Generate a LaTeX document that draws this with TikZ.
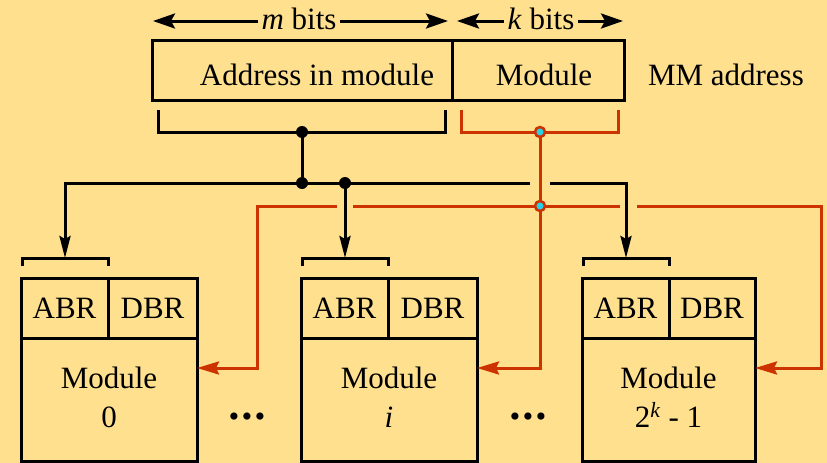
\documentclass[tikz,border=0pt]{standalone}
\usepackage{fontspec}
\setmainfont{Liberation Serif}
\newfontfamily\tnr{Liberation Serif}
\usetikzlibrary{arrows.meta,calc}
\definecolor{bg}{RGB}{254,224,143}
\definecolor{rd}{RGB}{204,51,0}
\definecolor{cy}{RGB}{40,210,230}
\tikzset{
  blk/.style={line width=3pt,draw=black},
  redl/.style={line width=3pt,draw=rd},
  box/.style={draw=black,line width=3pt,rectangle,inner sep=0pt,outer sep=0pt},
  txt/.style={font=\tnr\fontsize{31}{39}\selectfont,inner sep=0pt,outer sep=0pt},
  barr/.style={-{Stealth[length=22pt,width=11pt,inset=3pt]}},
  rarr/.style={-{Stealth[length=22pt,width=13pt,inset=3pt]}},
  dimarr/.style={{Stealth[length=22pt,width=15pt,inset=4pt]}-{Stealth[length=22pt,width=15pt,inset=4pt]}},
  bdot/.style={circle,fill=black,inner sep=0pt,minimum size=12pt},
  rdot/.style={circle,draw=rd,line width=2.5pt,fill=cy,inner sep=0pt,minimum size=10pt},
}
\begin{document}
\begin{tikzpicture}[x=1pt,y=-1pt]
\fill[bg] (0,0) rectangle (827,463);
\useasboundingbox (0,0) rectangle (827,463);

% top MM address register
\node[box,minimum width=300pt,minimum height=60pt] (addr) at (302,70) {};
\node[box,minimum width=172pt,minimum height=60pt] (mod) at (538,70) {};
\node[txt,anchor=base] (addrtxt) at (317,85) {Address in module};
\node[txt,anchor=base] (modtxt) at (544,85) {Module};
\node[txt,anchor=base west] (mmtxt) at (648,85) {MM address};

% dimension arrows
\coordinate (m1) at (153,21);
\coordinate (m2) at (448,21);
\coordinate (k1) at (457,21);
\coordinate (k2) at (623,21);
\draw[line width=3pt,dimarr] (m1) -- (m2);
\draw[line width=3pt,dimarr] (k1) -- (k2);
\node[txt,fill=bg,inner xsep=4pt,inner ysep=3pt,anchor=base] (mbits) at (299,29) {\textit{m} bits};
\node[txt,fill=bg,inner xsep=4pt,inner ysep=3pt,anchor=base] (kbits) at (541,29) {\textit{k} bits};

% modules
\foreach \n/\x/\w/\lab in {0/21/176/{0}, 1/301/176/{\textit{i}}, 2/582/173/{2\textsuperscript{\textit{k}} - 1}}{
  \node[box,minimum width=87pt,minimum height=60pt,anchor=north west] (abr\n) at (\x,278) {};
  \node[txt,anchor=base] at ($(abr\n.center)+(0,10)$) {ABR};
  \node[box,minimum width={\w-87},minimum height=60pt,anchor=north west] (dbr\n) at (abr\n.north east) {};
  \node[txt,anchor=base] at ($(dbr\n.center)+(0,10)$) {DBR};
  \node[box,minimum width=\w pt,minimum height=123pt,anchor=north west] (body\n) at (abr\n.south west) {};
  \node[txt,anchor=base] at ($(body\n.north)+(0,50)$) {Module};
  \node[txt,anchor=base] at ($(body\n.north)+(0,89)$) {\lab};
  \draw[blk] ($(abr\n.north west)+(1,-12)$) coordinate (bl\n) -- ++(0,-8) coordinate (bt\n) -- ($(abr\n.north east)+(0,-20)$) coordinate (btr\n) -- ++(0,8);
  \coordinate (btop\n) at ($(bt\n)!0.5!(btr\n)$);
}

% ellipses
\node[font=\tnr\fontsize{44}{44}\selectfont,inner sep=0pt,anchor=base] (dots1) at (249,419) {\textbf{\textit{.\hspace{2pt}.\hspace{2pt}.}}};
\node[font=\tnr\fontsize{44}{44}\selectfont,inner sep=0pt,anchor=base] (dots2) at (530,419) {\textbf{\textit{.\hspace{2pt}.\hspace{2pt}.}}};

% black address bus
\coordinate (J1) at (302,132);
\coordinate (J2) at (302,183);
\coordinate (J3) at (345,183);
\draw[blk] (158,110) -- (158,132) -- (445,132) -- (445,110);
\draw[blk] (J1) -- (J2);
\coordinate (gapL) at (530,183);
\coordinate (gapR) at (550,183);
\draw[blk,barr] (gapL) -| (btop0);
\draw[blk,barr] (gapR) -| (btop2);
\draw[blk,barr] (J3) -- (btop1);
\node[bdot] (d1) at (J1) {};
\node[bdot] (d2) at (J2) {};
\node[bdot] (d3) at (J3) {};

% red module-select lines
\coordinate (R1) at (540,132);
\coordinate (R2) at (540,206);
\draw[redl] (461,110) -- (461,132) -- (618,132) -- (618,110);
\draw[redl,rarr] (R1) -- (540,368) -- ([yshift=-30pt]body1.north east);
\draw[redl] (R2) -- (353,206);
\draw[redl,rarr] (337,206) -- (257,206) |- ([yshift=-30pt]body0.north east);
\draw[redl] (R2) -- (620,206);
\draw[redl,rarr] (637,206) -- (821,206) |- ([yshift=-30pt]body2.north east);
\node[rdot] (rd1) at (R1) {};
\node[rdot] (rd2) at (R2) {};
\end{tikzpicture}
\end{document}
